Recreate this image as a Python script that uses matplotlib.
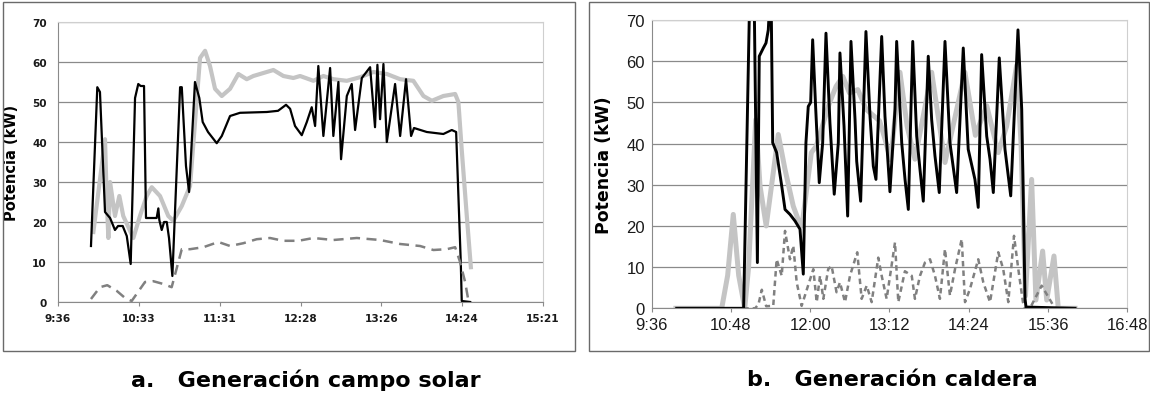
"""
Two panels of power output (kW) over the day:
a. solar field generation, b. boiler generation.
"""

import matplotlib
matplotlib.use("Agg")
import matplotlib.pyplot as plt
from matplotlib.patches import Rectangle
from matplotlib.ticker import FixedLocator, FuncFormatter

# ---- panel a: campo solar (time in minutes after midnight, power in kW) ----
solar_gray_t = [601.2, 609.5, 610.7, 611.9, 613.1, 616.6, 619.7, 622.5, 629.7, 634.4,
                639.2, 642.8, 648.7, 654.6, 658.2, 664.2, 670.1, 677.2, 680.8, 684.3,
                687.9, 692.7, 698.6, 704.5, 710.5, 715.2, 729.5, 736.6, 743.7, 748.5,
                758.0, 765.1, 772.2, 781.8, 791.3, 800.7, 810.3, 819.8, 829.2, 836.4,
                842.4, 850.6, 859.0, 861.3, 863.7, 867.3, 870.2]
solar_gray_p = [17.5, 40.7, 25.7, 16, 30, 21.5, 26.5, 21.5, 16, 21.5,
                26.5, 28.7, 26.5, 21.5, 20.3, 24, 29, 61, 62.8, 59,
                53.3, 51.5, 53.3, 57, 55.7, 56.5, 58, 56.5, 56, 56.5,
                55.3, 56.5, 55.7, 55.3, 56.2, 57.5, 57, 55.7, 55.3, 51.5,
                50.3, 51.5, 52, 50, 38, 21.5, 8.7]

solar_black_t = [599.5, 604.0, 605.9, 609.5, 613.1, 616.6, 618.8, 622.1, 625.0, 627.8,
                 630.9, 633.2, 634.9, 637.3, 638.7, 646.3, 647.5, 648.2, 649.9, 651.6,
                 653.5, 655.1, 657.5, 663.0, 664.2, 667.2, 669.4, 673.6, 676.7, 679.1,
                 682.9, 689.1, 692.7, 698.6, 705.7, 724.8, 732.8, 738.5, 741.4, 744.9,
                 749.7, 753.3, 756.8, 759.2, 761.5, 765.1, 769.9, 772.2, 775.8, 777.7,
                 781.8, 785.3, 787.7, 792.5, 798.4, 801.9, 803.6, 805.5, 807.9, 810.3,
                 816.2, 819.8, 824.0, 827.6, 829.7, 838.8, 850.6, 856.6, 859.7, 863.0,
                 863.7, 869.7]
solar_black_p = [14, 53.7, 52.5, 22.5, 21, 18, 19, 19, 16.5, 9.5,
                 51, 54.5, 54, 54, 21, 21, 23.4, 20.5, 18, 20,
                 20, 16, 6.5, 53.7, 53.7, 34, 27.5, 55, 51, 45,
                 42.5, 39.7, 41.5, 46.5, 47.3, 47.5, 47.8, 49.3, 48.3, 44,
                 41.7, 45, 48.7, 44, 59, 41.5, 58.5, 41.5, 55, 35.7,
                 51.5, 54.5, 43, 56, 58.7, 43.7, 59.3, 45.7, 59.5, 40,
                 54.5, 41.5, 55.7, 41.5, 43.5, 42.5, 42, 43, 42.5, 10,
                 0.25, 0]

solar_dash_t = [599.5, 605.9, 611.1, 617.8, 623.8, 628.5, 638.0, 643.9, 651.1, 657.0,
                664.2, 670.1, 679.6, 690.3, 698.6, 708.1, 717.6, 727.1, 736.6, 747.3,
                758.0, 772.2, 788.9, 805.5, 819.8, 834.0, 843.5, 853.0, 859.0, 862.5,
                866.1, 868.5]
solar_dash_p = [0.75, 3.7, 4.2, 2.8, 1, 0.25, 5, 5.2, 4.5, 3.7,
                13.2, 13.2, 13.7, 15, 14, 14.7, 15.7, 16, 15.3, 15.3,
                16, 15.5, 16, 15.5, 14.5, 14, 13, 13.2, 13.7, 10,
                5, 0.25]

# ---- panel b: caldera ----
boiler_gray_t = [598.0, 639.6, 645.0, 650.1, 655.0, 660.5, 664.0, 670.5, 674.4, 680.0,
                 691.0, 697.1, 704.6, 709.0, 712.5, 721.0, 725.5, 737.5, 743.5, 749.6,
                 755.6, 763.2, 770.8, 783.0, 788.0, 793.0, 801.5, 808.0, 815.1, 830.3,
                 842.4, 860.5, 870.0, 880.3, 890.8, 898.4, 907.5, 911.5, 915.5, 921.1,
                 925.0, 931.1, 934.8, 941.4, 945.3, 960.5]
boiler_gray_p = [0, 0, 8, 22.8, 8, 0, 10, 45.8, 29.7, 20,
                 42.2, 33.7, 24.8, 21.6, 20, 37.8, 39.4, 49.9, 53.9, 56.3,
                 52.3, 53.1, 48.3, 45.5, 41, 36, 57.3, 44.2, 36.2, 57.3,
                 35.4, 57.3, 42, 49.2, 37.8, 44.2, 59, 40, 3, 31.3,
                 2, 13.9, 2, 12.7, 0, 0]

boiler_black_t = [598.7, 659.5, 667.5, 672.0, 673.7, 677.4, 679.8, 681.9, 684.3, 685.9,
                  689.5, 694.1, 697.1, 701.6, 706.2, 710.7, 713.7, 716.1, 718.2, 720.4,
                  722.2, 725.0, 728.2, 731.3, 734.3, 737.9, 741.8, 745.5, 747.0, 750.7,
                  754.0, 757.0, 760.7, 762.2, 765.8, 770.6, 774.3, 777.3, 779.7, 784.9,
                  787.9, 792.4, 797.0, 798.5, 803.1, 806.1, 809.1, 813.1, 816.7, 819.7,
                  822.7, 827.2, 830.3, 833.3, 837.2, 842.4, 846.9, 853.0, 859.0, 863.5,
                  869.6, 872.6, 875.7, 880.3, 883.3, 886.3, 891.7, 896.9, 902.1, 908.7,
                  912.1, 915.1, 916.0, 960.5]
boiler_black_p = [0, 0, 110, 11.1, 61.2, 63.2, 64.4, 67.6, 80, 40.2,
                  37.8, 29.7, 24, 22.8, 21.2, 19.2, 8.3, 40.2, 49, 50,
                  65.2, 48.3, 30.5, 40.2, 66.8, 45, 27.7, 40.2, 62, 44.2,
                  22.4, 64.8, 45.8, 35.7, 26, 67.2, 46.6, 34.5, 31.3, 66,
                  46.6, 28.3, 48.3, 64.8, 40.2, 31.3, 24, 64.8, 41.8, 33.7,
                  26, 61.2, 45.8, 37, 28.1, 64.8, 40.2, 28.1, 63.2, 38.6,
                  31.3, 24.5, 61.6, 41.8, 36.2, 28.1, 60.8, 38.6, 27.3, 67.6,
                  48.3, 2.3, 0.3, 0]

boiler_dash_t = [598.7, 670.0, 673.0, 676.0, 680.0, 686.4, 689.5, 694.1, 697.1, 701.6,
                 704.6, 707.7, 712.2, 722.8, 725.9, 728.9, 731.9, 736.3, 739.4, 743.9,
                 747.0, 751.6, 756.1, 762.7, 766.7, 771.3, 775.8, 781.8, 784.9, 789.4,
                 797.0, 800.0, 806.0, 812.2, 815.1, 819.7, 824.2, 828.8, 833.3, 837.8,
                 842.4, 846.9, 851.5, 857.6, 860.6, 865.1, 872.6, 877.2, 883.3, 890.8,
                 895.3, 899.9, 905.1, 909.0, 913.2, 915.1, 919.6, 930.2, 942.3, 960.5]
boiler_dash_p = [0, 0, 1, 4.5, 0.5, 0.6, 11.9, 7.9, 18.8, 11.9,
                 15.2, 6.3, 0.6, 9.5, 1.5, 7.9, 2.3, 9.5, 10.3, 3.9,
                 6.3, 1.5, 7.9, 13.6, 2.3, 5.5, 1.5, 12.3, 7.9, 2.3,
                 16, 1.5, 9, 7.9, 2.3, 7.9, 11.1, 11.9, 7.9, 2.3,
                 14.4, 3.1, 9.5, 16.8, 1.5, 4.7, 11.9, 6.3, 1.5, 13.6,
                 9.5, 1.5, 17.6, 9.5, 1.5, 0, 0, 5.5, 0, 0]

solar_ticks = [576.0, 633.6, 691.2, 748.8, 806.4, 864.0, 921.6]
boiler_ticks = [576, 648, 720, 792, 864, 936, 1008]
y_ticks = [0, 10, 20, 30, 40, 50, 60, 70]

captions = ["a.   Generación campo solar", "b.   Generación caldera"]

GRAY_LINE = "#c4c4c4"
DASH_GRAY = "#808080"
GRID = "#8a8a8a"


def hhmm(m, _pos=None):
    m = int(m + 1e-6)
    return f"{m // 60}:{m % 60:02d}"


def style_axes(ax, ticks, tick_font, ypad, xpad):
    ax.set_xlim(ticks[0], ticks[-1])
    ax.set_ylim(0, 70)
    ax.xaxis.set_major_locator(FixedLocator(ticks))
    ax.xaxis.set_major_formatter(FuncFormatter(hhmm))
    ax.set_yticks(y_ticks)
    ax.grid(axis="y", color=GRID, linewidth=0.9)
    ax.set_axisbelow(True)
    for side in ("top", "right"):
        ax.spines[side].set_color("#cfcfcf")
    for side in ("left", "bottom"):
        ax.spines[side].set_color("#8a8a8a")
    ax.tick_params(axis="x", length=3, color="#8a8a8a", pad=xpad)
    ax.tick_params(axis="y", length=0, pad=ypad)
    for lab in ax.get_xticklabels() + ax.get_yticklabels():
        lab.set_fontproperties(tick_font)
        lab.set_color("#1a1a1a")


fig = plt.figure(figsize=(11.5, 4.14), dpi=100)
W, H = 1150, 414

# panel frames
for x0, x1 in ((3, 575), (589, 1149)):
    fig.patches.append(Rectangle((x0 / W, 1 - 352 / H), (x1 - x0) / W, 349 / H,
                                 transform=fig.transFigure, fill=False,
                                 edgecolor="#6a6a6a", linewidth=1.0))

# panel a
ax1 = fig.add_axes([58 / W, 1 - 303 / H, 485 / W, 280 / H])
ax1.plot(solar_gray_t, solar_gray_p, color=GRAY_LINE, lw=3.0, solid_joinstyle="round")
ax1.plot(solar_black_t, solar_black_p, color="black", lw=1.6, solid_joinstyle="round")
ax1.plot(solar_dash_t, solar_dash_p, color=DASH_GRAY, lw=1.8, dashes=(4, 2.6))
style_axes(ax1, solar_ticks, dict(family="DejaVu Sans", weight="bold", size=7.6), 8, 5)
ax1.set_ylabel("Potencia (kW)", fontsize=10.5, fontweight="bold", family="DejaVu Sans")
ax1.yaxis.set_label_coords(-0.080, 0.5)

# panel b
ax2 = fig.add_axes([651.7 / W, 1 - 309.3 / H, 475.6 / W, 288.3 / H])
ax2.plot(boiler_gray_t, boiler_gray_p, color=GRAY_LINE, lw=3.6, solid_joinstyle="round")
ax2.plot(boiler_dash_t, boiler_dash_p, color=DASH_GRAY, lw=1.8, dashes=(2.2, 1.6))
ax2.plot(boiler_black_t, boiler_black_p, color="black", lw=2.1, solid_joinstyle="round")
style_axes(ax2, boiler_ticks,
           dict(family=["Liberation Sans Narrow", "Liberation Sans"], size=12), 5, 3)
ax2.set_ylabel("Potencia (kW)", fontsize=12.5, fontweight="bold", family="DejaVu Sans")
ax2.yaxis.set_label_coords(-0.081, 0.5)

# captions
for cx, text in zip((306, 892), captions):
    fig.text(cx / W, 1 - 380 / H, text, ha="center", va="center",
             fontsize=16, fontweight="bold", family="DejaVu Sans")

fig.savefig("out.png", dpi=100)
